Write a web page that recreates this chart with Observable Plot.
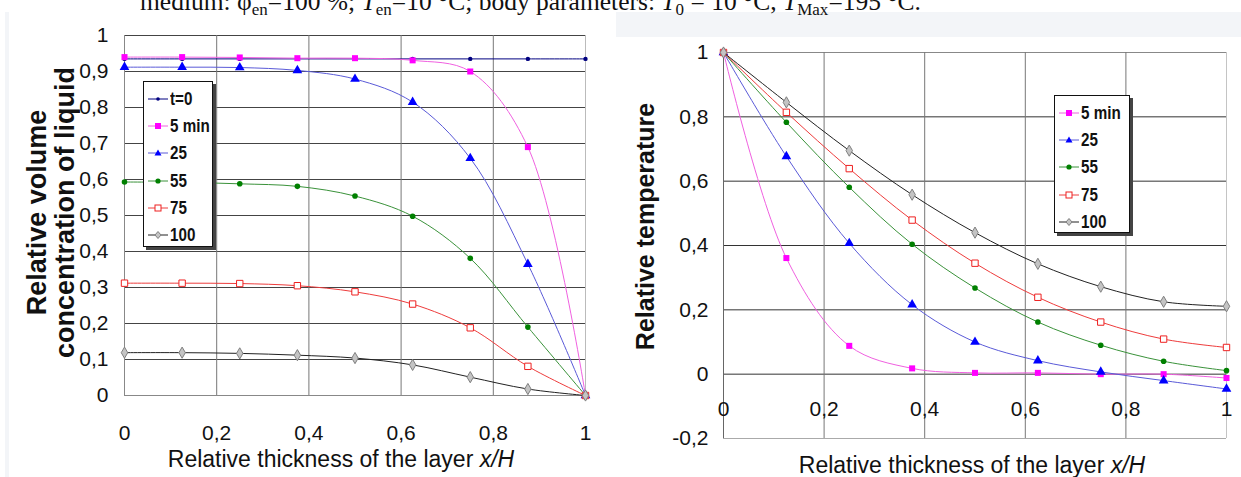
<!DOCTYPE html>
<html>
<head>
<meta charset="utf-8">
<script src="https://cdn.jsdelivr.net/npm/d3@7"></script>
<script src="https://cdn.jsdelivr.net/npm/@observablehq/plot@0.6"></script>
<style>
  html, body { margin: 0; padding: 0; background: #fff; }
  #page { position: relative; width: 1241px; height: 477px; overflow: hidden; background: #fff; }
  .abs { position: absolute; }
  .legend { position: absolute; background: #fff; border: 1px solid #111; box-shadow: 3px 3px 0 #444; box-sizing: border-box; padding-top: 3px; }
  .legend .row { display: flex; align-items: center; height: 27.3px; white-space: nowrap; font-family: "Liberation Sans", Arial, sans-serif; font-weight: bold; font-size: 19px; color: #111; }
  .legend .row span { display: inline-block; transform: scaleX(0.8); transform-origin: left center; }
  .legend svg { margin-left: 4px; margin-right: 2px; flex: none; }
  .xtitle { position: absolute; width: 460px; text-align: center; font-family: "Liberation Sans", Arial, sans-serif; font-size: 23px; line-height: 26px; color: #111; white-space: nowrap; }
</style>
</head>
<body>
<div id="page">
  <div class="abs" style="left:5px;top:12px;width:4px;height:465px;background:#f3f5f8"></div>
  <div class="abs" style="left:616px;top:12px;width:625px;height:25px;background:#f3f5f8"></div>
  <svg class="abs" style="left:0;top:0" width="1241" height="22">
    <text x="140" y="10" font-family="'Liberation Serif','Times New Roman',serif" font-size="25.5" fill="#111">medium: φ<tspan font-size="17" dy="5">en</tspan><tspan dy="-5">=100 %; </tspan><tspan font-style="italic">T</tspan><tspan font-size="17" dy="5">en</tspan><tspan dy="-5">=10 °C; body parameters: </tspan><tspan font-style="italic">T</tspan><tspan font-size="17" dy="5">0</tspan><tspan dy="-5"> = 10 °C, </tspan><tspan font-style="italic">T</tspan><tspan font-size="17" dy="5">Max</tspan><tspan dy="-5">=195 °C.</tspan></text>
  </svg>
  <div id="left" class="abs" style="left:0;top:0"></div>
  <div id="right" class="abs" style="left:620px;top:0"></div>
  <div class="xtitle" style="left:111px;top:446px">Relative thickness of the layer <i>x/H</i></div>
  <div class="xtitle" style="left:742px;top:452px">Relative thickness of the layer <i>x/H</i></div>
  <div id="legL" class="legend" style="left:143px;top:81px;width:70px;height:166px"></div>
  <div id="legR" class="legend" style="left:1054px;top:95px;width:76px;height:138px"></div>
</div>
<script>
// ---- data ----
const xs = [0, 0.125, 0.25, 0.375, 0.5, 0.625, 0.75, 0.875, 1];

// left: relative volume concentration of liquid
const concT0  = [0.935, 0.935, 0.935, 0.935, 0.935, 0.935, 0.935, 0.935, 0.935];
const conc5   = [0.94, 0.94, 0.939, 0.937, 0.937, 0.931, 0.90, 0.69, 0.0];
const conc25  = [0.912, 0.912, 0.911, 0.903, 0.879, 0.815, 0.659, 0.365, 0.0];
const conc55  = [0.593, 0.592, 0.588, 0.581, 0.554, 0.498, 0.381, 0.19, 0.0];
const conc75  = [0.312, 0.312, 0.311, 0.305, 0.288, 0.254, 0.188, 0.081, 0.0];
const conc100 = [0.119, 0.119, 0.117, 0.112, 0.104, 0.085, 0.051, 0.018, 0.0];

// right: relative temperature
const temp5   = [1, 0.361, 0.088, 0.018, 0.004, 0.004, 0.0, 0.0, -0.012];
const temp25  = [1, 0.677, 0.407, 0.216, 0.10, 0.042, 0.007, -0.02, -0.046];
const temp55  = [1, 0.783, 0.581, 0.404, 0.268, 0.162, 0.09, 0.04, 0.011];
const temp75  = [1, 0.814, 0.639, 0.479, 0.345, 0.239, 0.162, 0.109, 0.083];
const temp100 = [1, 0.845, 0.695, 0.558, 0.44, 0.343, 0.272, 0.225, 0.211];

const leftSeriesNames  = ["t=0", "5 min", "25", "55", "75", "100"];
const rightSeriesNames = ["5 min", "25", "55", "75", "100"];

const xTicks = [0, 0.2, 0.4, 0.6, 0.8, 1];
const yTicksLeft = [0, 0.1, 0.2, 0.3, 0.4, 0.5, 0.6, 0.7, 0.8, 0.9, 1];
const yTicksRight = [-0.2, 0, 0.2, 0.4, 0.6, 0.8, 1];

// ---- styles ----
const styles = {
  "t=0":   {line: "#000080", fill: "#000080", stroke: "none",    symbol: "circle",   r: 2.2},
  "5 min": {line: "#f060e0", fill: "#ff00ff", stroke: "none",    symbol: "square",   r: 3.4},
  "25":    {line: "#5a5ad8", fill: "#0000ff", stroke: "none",    symbol: "triangle", r: 3.6},
  "55":    {line: "#3a923a", fill: "#008000", stroke: "none",    symbol: "circle",   r: 2.8},
  "75":    {line: "#ee3c3c", fill: "#ffffff", stroke: "#ee2020", symbol: "square",   r: 3.6},
  "100":   {line: "#222222", fill: "#c4c4c4", stroke: "#808080", symbol: "diamond",  r: 3.4}
};

const fmt = d => String(+d.toFixed(1)).replace(".", ",");
const toPts = ys => xs.map((x, i) => ({x, y: ys[i]}));
const FONT = '"Liberation Sans",Arial,sans-serif';

function seriesMarks(name, ys) {
  const s = styles[name];
  const pts = toPts(ys);
  return [
    Plot.line(pts, {x: "x", y: "y", stroke: s.line, strokeWidth: 1, curve: "catmull-rom"}),
    Plot.dot(pts, {x: "x", y: "y", symbol: s.symbol, r: s.r, fill: s.fill, stroke: s.stroke, strokeWidth: 1})
  ];
}

// ---- left chart ----
const leftData = [concT0, conc5, conc25, conc55, conc75, conc100];
const left = Plot.plot({
  width: 600, height: 470,
  marginLeft: 124, marginRight: 15, marginTop: 35, marginBottom: 75,
  x: {domain: [0, 1], axis: null},
  y: {domain: [0, 1], axis: null},
  style: {fontFamily: FONT, fontSize: "21px", color: "#111", background: "transparent", overflow: "visible"},
  marks: [
    Plot.ruleY(yTicksLeft, {y: d => d, stroke: d => d === 0 ? "#888" : "#444", strokeWidth: 1}),
    Plot.ruleX(xTicks, {x: d => d, stroke: d => d === 1 ? "#bbb" : (d === 0 ? "#888" : "#777"), strokeWidth: 1}),
    Plot.text(yTicksLeft, {x: 0, y: d => d, text: fmt, dx: -16, textAnchor: "end", lineAnchor: "middle", fontSize: 21}),
    Plot.text(xTicks, {x: d => d, y: 0, text: fmt, dy: 38, lineAnchor: "middle", fontSize: 21}),
    ...leftSeriesNames.flatMap((n, i) => seriesMarks(n, leftData[i])),
    Plot.text(["Relative volume"], {text: d => d, frameAnchor: "left", rotate: -90, dx: -87, dy: -3, textAnchor: "middle", lineAnchor: "middle", fontWeight: "bold", fontSize: 27}),
    Plot.text(["concentration of liquid"], {text: d => d, frameAnchor: "left", rotate: -90, dx: -59, dy: -3, textAnchor: "middle", lineAnchor: "middle", fontWeight: "bold", fontSize: 27})
  ]
});
document.getElementById("left").appendChild(left);

// ---- right chart ----
const rightData = [temp5, temp25, temp55, temp75, temp100];
const right = Plot.plot({
  width: 621, height: 477,
  marginLeft: 103, marginRight: 15, marginTop: 52, marginBottom: 39,
  x: {domain: [0, 1], axis: null},
  y: {domain: [-0.2, 1], axis: null},
  style: {fontFamily: FONT, fontSize: "21px", color: "#111", background: "transparent", overflow: "visible"},
  marks: [
    Plot.ruleY(yTicksRight, {y: d => d, stroke: d => d === -0.2 ? "#aaa" : (d === 1 ? "#888" : "#333"), strokeWidth: 1}),
    Plot.ruleX(xTicks, {x: d => d, stroke: d => d === 1 ? "#c4c4c4" : (d === 0 ? "#666" : "#777"), strokeWidth: 1}),
    Plot.text(yTicksRight, {x: 0, y: d => d, text: fmt, dx: -15, textAnchor: "end", lineAnchor: "middle", fontSize: 21}),
    Plot.text(xTicks, {x: d => d, y: 0, text: fmt, dy: 35, lineAnchor: "middle", fontSize: 21}),
    ...rightSeriesNames.flatMap((n, i) => seriesMarks(n, rightData[i])),
    Plot.text(["Relative temperature"], {text: d => d, frameAnchor: "left", rotate: -90, dx: -78, dy: -19, textAnchor: "middle", lineAnchor: "middle", fontWeight: "bold", fontSize: 25})
  ]
});
document.getElementById("right").appendChild(right);

// ---- legends ----
function markerSvg(name) {
  const s = styles[name];
  let shape = "";
  const cx = 10, cy = 6;
  if (s.symbol === "circle") shape = `<circle cx="${cx}" cy="${cy}" r="${name === "t=0" ? 1.8 : 2.6}" fill="${s.fill}"/>`;
  else if (s.symbol === "square") shape = `<rect x="${cx - 3}" y="${cy - 3}" width="6" height="6" fill="${s.fill}" stroke="${s.stroke}"/>`;
  else if (s.symbol === "triangle") shape = `<path d="M${cx},${cy - 3.5}L${cx + 3.5},${cy + 2.5}L${cx - 3.5},${cy + 2.5}Z" fill="${s.fill}"/>`;
  else if (s.symbol === "diamond") shape = `<path d="M${cx},${cy - 3.5}L${cx + 3},${cy}L${cx},${cy + 3.5}L${cx - 3},${cy}Z" fill="${s.fill}" stroke="${s.stroke}"/>`;
  return `<svg width="20" height="12"><line x1="0" x2="20" y1="${cy}" y2="${cy}" stroke="${s.line}" stroke-width="1"/>${shape}</svg>`;
}
function buildLegend(id, names) {
  const el = document.getElementById(id);
  el.innerHTML = names.map(n => `<div class="row">${markerSvg(n)}<span>${n}</span></div>`).join("");
}
buildLegend("legL", leftSeriesNames);
buildLegend("legR", rightSeriesNames);
</script>
</body>
</html>
